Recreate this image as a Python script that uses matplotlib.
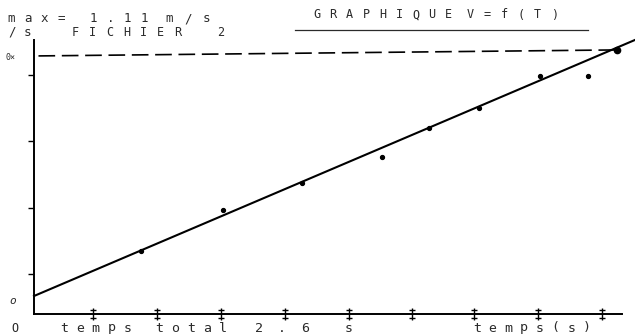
import numpy as np
import matplotlib.pyplot as plt

# ====================================================
# measured points (s, m/s)
t_pts = [0.477, 0.843, 1.195, 1.552, 1.762, 1.985, 2.257, 2.471]
v_pts = [0.220, 0.404, 0.526, 0.643, 0.773, 0.863, 1.007, 1.007]
t_last = 2.600
v_last = 1.124

# regression line v = a*t + b
fit_t = [0.0, 2.681]
fit_v = [0.018, 1.169]

# max speed line
vmax_t = [0.02, 2.60]
vmax_v = [1.097, 1.124]

x_ticks = [0.263, 0.549, 0.834, 1.120, 1.405, 1.686, 1.963, 2.248, 2.533]
y_ticks = [0.117, 0.413, 0.715, 1.011]

W, H = 635, 336
INK = '#2a2a2a'
FONT = 'DejaVu Sans Mono'


def fx(px):
	return px / W


def fy(py):
	return 1 - py / H


# plotter style text: one char at a time with a fixed pitch (pixels)
def ptext(fig, x0, y, s, pitch, size=8.5):
	for i, c in enumerate(s):
		if c == ' ':
			continue
		fig.text(fx(x0 + i * pitch), fy(y), c, family=FONT, color=INK,
				 fontsize=size, va='center', ha='left')


# ====================================================
def main():
	fig = plt.figure(figsize=(W / 100, H / 100), dpi=100)
	ax = fig.add_axes([fx(34), fy(314), fx(635) - fx(34), fy(30) - fy(314)])

	ax.set_xlim(0, 2.6806)
	ax.set_ylim(-0.0629, 1.2135)

	ax.plot(fit_t, fit_v, color='black', lw=1.5, clip_on=False)
	ax.plot(vmax_t, vmax_v, color='black', lw=1.2, dashes=(10, 4))
	ax.plot(t_pts, v_pts, 'o', color='black', ms=2.8)
	ax.plot([t_last], [v_last], 'o', color='black', ms=4.5)

	for s in ['top', 'right']:
		ax.spines[s].set_visible(False)
	ax.spines['left'].set_bounds(-0.0629, 1.1685)
	ax.spines['bottom'].set_bounds(0, 2.6227)
	ax.spines['left'].set_linewidth(1.4)
	ax.spines['bottom'].set_linewidth(1.4)

	ax.set_xticks(x_ticks)
	ax.set_yticks(y_ticks)
	ax.set_xticklabels([])
	ax.set_yticklabels([])
	ax.tick_params(axis='x', direction='inout', length=9, width=1.0)
	ax.tick_params(axis='y', direction='out', length=4, width=1.0)
	# little caps on the x ticks
	ax.plot(x_ticks, [-0.0629 + 0.018] * len(x_ticks), '_', color='black', ms=5, clip_on=False)
	ax.plot(x_ticks, [-0.0629 - 0.018] * len(x_ticks), '_', color='black', ms=5, clip_on=False)

	# header
	ptext(fig, 7, 19, 'max=', 17, 9)
	ptext(fig, 90, 19, '1.11', 16.7, 9)
	ptext(fig, 165, 19, 'm/s', 19, 9)
	ptext(fig, 8, 32, '/s', 16, 9)
	ptext(fig, 72, 32, 'FICHIER', 17)
	ptext(fig, 217, 32, '2', 16)
	ptext(fig, 313, 15, 'GRAPHIQUE', 16.5)
	ptext(fig, 467, 15, 'V=f(T)', 16.8)
	fig.add_artist(plt.Line2D([fx(295), fx(588)], [fy(30), fy(30)], color=INK, lw=0.9))

	# axis labels
	fig.text(fx(6), fy(58), '0×', family=FONT, color=INK, fontsize=6, va='center', ha='left')
	fig.text(fx(9), fy(301), 'o', family=FONT, color=INK, fontsize=8, style='italic',
			 va='center', ha='left')
	ptext(fig, 11, 328, 'O', 16)
	ptext(fig, 60, 328, 'temps', 15.8, 9.5)
	ptext(fig, 155, 328, 'total', 16, 9.5)
	ptext(fig, 255, 328, '2.6', 23, 9.5)
	ptext(fig, 345, 328, 's', 16, 9.5)
	ptext(fig, 473, 328, 'temps(s)', 15.7, 9.5)

	fig.savefig('out.png', dpi=100, facecolor='white')


# ====================================================
if __name__ == "__main__":
	main()
